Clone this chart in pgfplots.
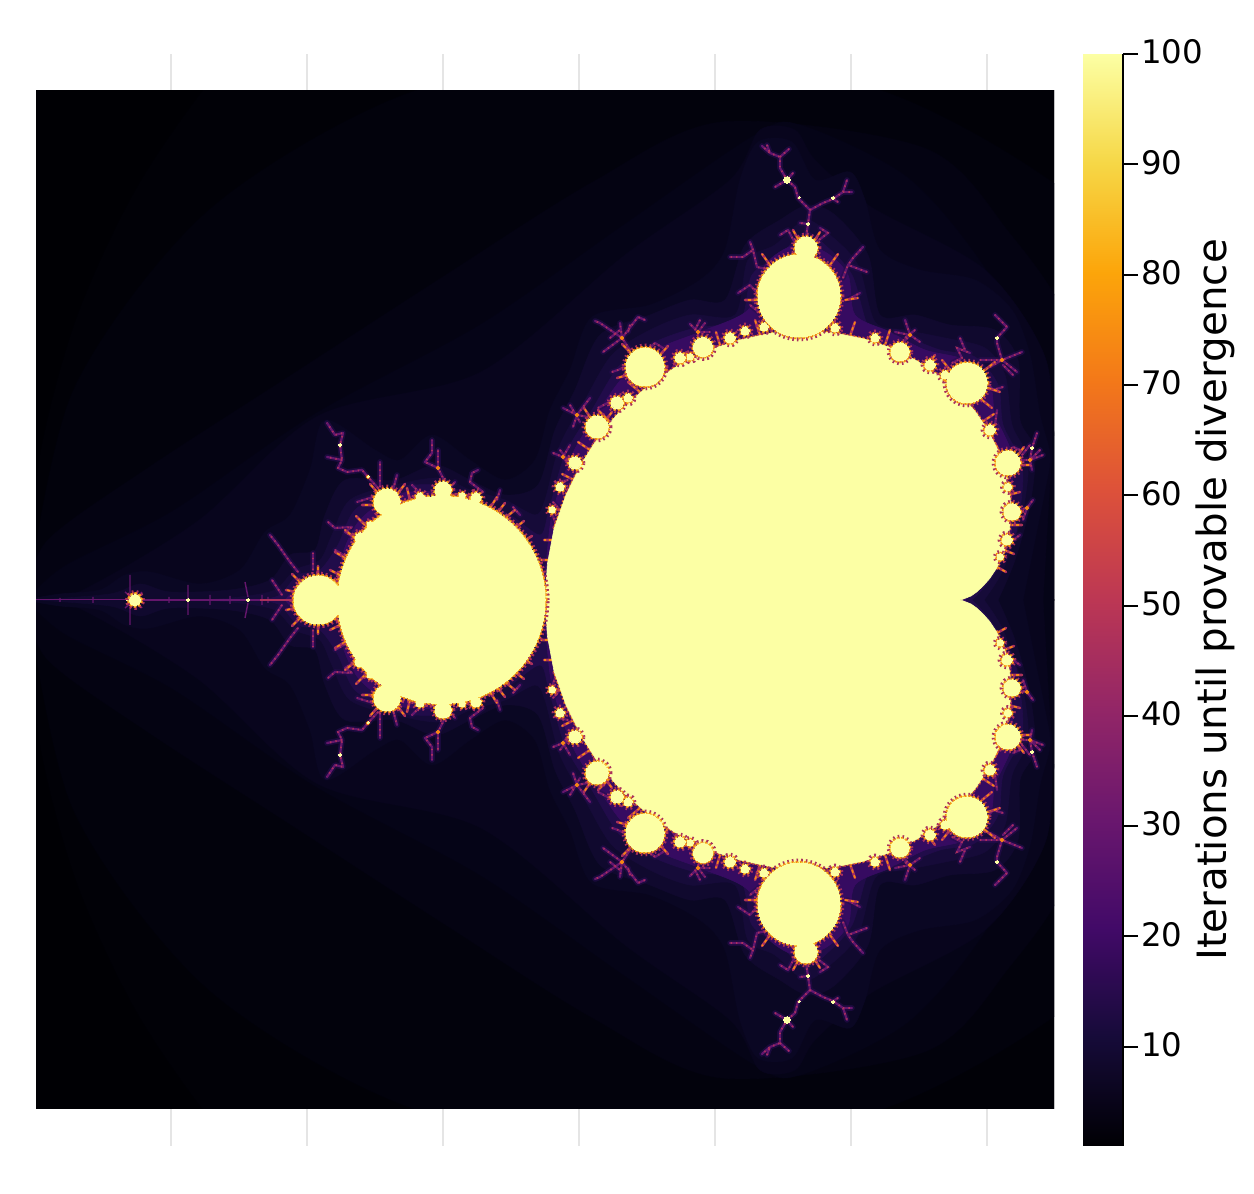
\documentclass[border=0pt]{standalone}
\usepackage{pgfplots}
\usepackage{pgfplotstable}
\usepackage{fontspec}
\setmainfont{DejaVu Sans}
\pgfplotsset{compat=1.18}
\pgfplotsset{colormap={inferno}{rgb255=(0,0,4) rgb255=(22,11,57) rgb255=(66,10,104) rgb255=(106,23,110) rgb255=(147,38,103) rgb255=(188,55,84) rgb255=(221,81,58) rgb255=(243,120,25) rgb255=(252,165,10) rgb255=(246,215,70) rgb255=(252,255,164)}}
\definecolor{Lone}{RGB}{0,0,4}
\definecolor{Ltwo}{RGB}{1,1,7}
\definecolor{Lthree}{RGB}{2,2,12}
\definecolor{Lfour}{RGB}{4,3,18}
\definecolor{Lfive}{RGB}{5,4,23}
\definecolor{Lsix}{RGB}{8,5,29}
\definecolor{Lseven}{RGB}{10,7,35}
\definecolor{Lnine}{RGB}{16,9,46}
\definecolor{Lele}{RGB}{22,11,57}
\definecolor{Lfourt}{RGB}{33,12,74}
\definecolor{Leight}{RGB}{54,11,97}
\definecolor{setc}{RGB}{252,255,164}
\definecolor{hairc}{RGB}{100,22,108}
\definecolor{glowc}{RGB}{38,12,78}
\definecolor{rimb}{RGB}{170,48,92}
\definecolor{rimo}{RGB}{245,135,20}
\definecolor{rimy}{RGB}{248,200,60}
% level curves of the escape count, upper half: x pixel, height above the real axis
\pgfplotstableread{
x y
27.5 0
40 144
77 283
138 414
221 532
323 634
1300 634
1300 0
}\tOne
\pgfplotstableread{
x y
1269 0
1223 211
1089 389
888 507
648 548
409 507
208 389
74 211
27.5 0
}\tTwo
\pgfplotstableread{
x y
1140 0
1076 259
1007 370
924 452
722 478
593 418
446 325
290 224
148 132
47 59
27.5 0
}\tThree
\pgfplotstableread{
x y
1078 0
1060 130
1037 240
975 346
904 425
800 475
755 465
621 373
480 275
315 186
173 89
65 34
27.5 0
}\tFour
\pgfplotstableread{
x y
1043 0
1050 120
1052 150
1045 243
985 330
871 393
815 440
795 470
760 470
730 420
625 345
481 228
318 184
198 79
77 7
30 0
}\tFive
\pgfplotstableread{
x y
1023 0
1035 60
1045 110
1050 145
1040 185
1030 245
1012 290
975 320
920 330
880 350
865 400
850 428
815 420
792 458
758 458
740 420
725 350
700 320
650 295
592 283
570 230
550 190
535 140
505 120
470 140
432 165
400 140
375 150
325 180
310 130
290 85
265 68
240 30
200 16
150 28
125 25
100 10
60 6
36 2
30 0
}\tSix
\pgfplotstableread{
x y
998 0
1015 40
1030 95
1035 150
1020 180
1018 240
995 270
950 275
915 285
880 285
868 345
835 385
808 395
780 380
745 355
725 300
690 300
650 285
600 265
575 210
555 170
538 115
505 105
470 120
435 135
395 120
345 120
325 85
315 50
290 45
270 20
230 10
170 8
140 16
110 6
36 0
}\tNine
\pgfplotstableread{
x y
984 0
1003 30
1022 85
1028 140
1012 175
1005 225
985 252
945 262
905 270
875 278
858 335
830 365
805 380
775 355
748 340
735 285
690 285
650 270
612 245
585 200
560 155
545 100
535 85
505 100
470 110
440 122
395 115
350 100
332 65
320 40
295 30
275 10
240 3
200 0
}\tEleven
\pgfplotstableread{
x y
972 0
990 20
1012 55
1020 90
1022 135
1003 175
998 215
975 243
940 250
900 265
870 270
852 325
825 355
805 368
780 345
752 325
740 280
695 272
655 258
620 235
592 190
565 145
549 90
540 65
510 85
470 105
440 115
395 112
355 90
338 55
320 30
298 25
280 5
260 0
}\tFourteen
\pgfplotstableread{
x y
965 0
975 10
992 28
1010 60
1012 100
1012 145
995 185
990 215
965 240
925 250
890 268
855 285
848 325
825 348
795 355
765 335
748 290
700 268
660 252
625 225
598 188
572 145
552 85
545 30
538 40
515 75
480 95
440 108
395 105
360 80
344 50
338 20
320 25
300 15
285 0
}\tEighteen
% main cardioid
\pgfplotstableread{
x y
959 0
962 0.5
971 4
976.6 8
983 14
989.7 21.5
996 31
1002 43
1007 57
1009.6 72
1011 90
1009.5 108
1006 128
998.7 148
989 168
975.5 188
959 207
939.4 224
917 239
891.6 252
864 261
834.5 267
804 269
772 267
740 260
709 250
679 235
650.5 216
624 193
601 167
582 137
566 105
554 71
547.4 36
545 0
}\tCard
% the part of the cardioid rim that carries a fringe
\pgfplotstableread{
x y
996 31
1002 43
1007 57
1009.6 72
1011 90
1009.5 108
1006 128
998.7 148
989 168
975.5 188
959 207
939.4 224
917 239
891.6 252
864 261
834.5 267
804 269
772 267
740 260
709 250
679 235
650.5 216
624 193
601 167
582 137
566 105
554 71
}\tRim
% filaments
\pgfplotstableread{
x y
806 363
808 376
810 390
798 402
795 413
787 420
780 432
780 443
770 447
762 454
nan nan
780 443
789 451
nan nan
767 455
770 447
nan nan
775 413
787 420
793 427
nan nan
810 390
823 397
833 401
843 408
847 420
nan nan
843 408
852 408
nan nan
838 398
833 401
nan nan
808 376
800 377
nan nan
795 357
788 370
780 365
nan nan
815 357
828 367
820 372
nan nan
770 330
757 333
753 350
743 343
730 343
nan nan
753 350
750 358
nan nan
843 322
848 335
853 342
863 353
nan nan
867 328
848 335
nan nan
757 307
750 315
738 307
nan nan
847 300
860 307
nan nan
760 287
750 295
nan nan
990 233
1002 240
1022 248
nan nan
1002 240
1017 228
nan nan
1002 240
997 257
997 262
1007 273
995 285
nan nan
980 240
1002 240
nan nan
952 237
962 242
957 252
970 247
nan nan
985 220
993 210
1003 213
nan nan
903 257
910 265
905 280
nan nan
910 265
920 258
nan nan
910 265
895 268
nan nan
1015 140
1030 140
1043 145
nan nan
1030 140
1032 152
1037 167
nan nan
1030 140
1032 130
nan nan
1020 150
1013 153
nan nan
1018 90
1027 92
1033 100
nan nan
1027 92
1023 80
nan nan
1008 62
1013 60
1020 65
nan nan
990 175
995 175
997 190
nan nan
630 250
622 262
600 277
595 279
nan nan
622 262
638 283
645 280
nan nan
622 262
603 248
nan nan
622 262
620 277
nan nan
650 252
655 257
663 252
nan nan
628 235
618 230
612 228
nan nan
588 183
577 185
563 192
nan nan
577 185
590 202
nan nan
577 185
573 173
nan nan
598 192
617 202
622 190
nan nan
575 140
563 143
553 147
nan nan
563 143
570 155
nan nan
563 143
567 137
nan nan
568 120
555 117
nan nan
553 98
560 90
nan nan
552 87
556 75
nan nan
700 255
698 268
690 276
nan nan
698 268
710 268
nan nan
698 268
705 277
nan nan
682 245
673 233
nan nan
727 267
730 262
nan nan
378 112
368 123
362 130
347 128
338 132
342 140
340 155
343 167
335 165
327 177
nan nan
342 140
327 143
nan nan
380 113
380 138
nan nan
393 110
397 125
nan nan
373 103
357 98
nan nan
445 118
438 132
425 138
432 147
432 160
nan nan
438 132
438 150
nan nan
450 112
455 118
nan nan
420 107
412 115
nan nan
483 108
470 118
472 127
478 130
nan nan
497 100
500 110
nan nan
513 93
520 85
nan nan
328 78
335 72
352 73
345 68
353 63
365 70
nan nan
313 30
313 47
nan nan
335 50
347 43
nan nan
298 28
290 38
278 55
270 65
nan nan
282 5
272 20
nan nan
1013 225
1003 235
nan nan
960 262
965 250
nan nan
585 175
598 178
nan nan
610 262
620 270
nan nan
630 275
628 268
nan nan
1022 145
1030 155
nan nan
1040 150
1030 140
nan nan
915 270
905 262
nan nan
700 280
695 270
nan nan
570 195
580 178
nan nan
560 150
570 137
}\tHair
% short spikes of the bright fringe
\pgfplotstableread{
x y
498 88
505 97
nan nan
505 82
515 90
nan nan
515 72
524 79
nan nan
522 58
532 64
nan nan
528 40
536 45
nan nan
490 92
497 103
nan nan
470 100
474 110
nan nan
410 100
407 112
nan nan
400 98
395 110
nan nan
365 75
356 84
nan nan
355 62
345 70
nan nan
345 42
335 48
nan nan
340 25
330 30
nan nan
760 265
755 280
nan nan
720 255
716 268
nan nan
668 228
660 242
nan nan
640 208
628 218
nan nan
610 178
598 190
nan nan
590 150
578 158
nan nan
574 120
562 126
nan nan
560 90
549 92
nan nan
552 60
544 60
nan nan
548 40
541 40
nan nan
850 264
855 278
nan nan
885 255
890 270
nan nan
925 232
935 245
nan nan
982 178
994 186
nan nan
1000 145
1012 150
nan nan
1008 105
1020 108
nan nan
1010 75
1022 75
nan nan
1004 50
1014 46
nan nan
997 33
1006 28
nan nan
770 335
762 346
nan nan
830 335
838 346
nan nan
845 300
858 302
nan nan
757 300
745 300
nan nan
630 248
622 256
nan nan
660 245
668 254
nan nan
628 225
617 222
nan nan
950 230
942 240
nan nan
985 230
995 238
nan nan
988 212
1000 208
nan nan
982 200
992 192
nan nan
590 183
584 192
nan nan
606 180
612 188
nan nan
1000 147
995 157
nan nan
1018 145
1024 153
nan nan
1020 135
1030 135
nan nan
377 108
370 116
nan nan
398 107
405 116
nan nan
374 95
362 95
nan nan
300 18
292 26
nan nan
318 24
318 34
nan nan
335 18
342 26
nan nan
296 8
286 10
nan nan
798 361
793 370
nan nan
815 360
820 368
}\tFringe
\pgfplotstableread{
x y
130 0
130 25
nan nan
188 0
188 15
nan nan
248 3
245 18
nan nan
210 0
210 5
nan nan
169 0
169 3
nan nan
93 0
93 3
nan nan
60 0
60 2
nan nan
230 0
230 4
nan nan
262 0
262 5
nan nan
268 0
268 3
nan nan
135 0
125 8
nan nan
135 0
142 8
}\tSpike
\newcommand{\fillboth}[2]{%
  \addplot[#1] table[x=x,y=y]{#2} --cycle;
  \addplot[#1] table[x=x,y expr=-\thisrow{y}]{#2} --cycle;}
\newcommand{\lineboth}[2]{%
  \addplot[#1] table[x=x,y=y]{#2};
  \addplot[#1] table[x=x,y expr=-\thisrow{y}]{#2};}
% bulbs: x, height, radius
\newcommand{\Bulbs}[1]{%
  #1{441.5}{0}{103.5}#1{318}{0}{24}#1{135}{0}{5.5}#1{799}{304}{41}#1{806}{352}{11}%
  #1{645}{233}{19}#1{967}{217}{20}#1{1008}{137}{12}#1{597}{173}{11}%
  #1{703}{253}{9.5}#1{900}{248}{9}#1{1012}{88}{8}#1{1007}{60}{5}%
  #1{575}{137}{6}#1{560}{113}{4}#1{552}{90}{3}#1{730}{262}{5}%
  #1{764}{273}{4}#1{745}{269}{4}#1{835}{272}{4}#1{875}{262}{4}%
  #1{930}{235}{5}#1{945}{225}{4}#1{990}{170}{5}#1{1008}{113}{3.5}#1{1000}{43}{3}%
  #1{617}{197}{6}#1{628}{202}{4}#1{680}{242}{5}#1{690}{243}{3}%
  #1{387}{98}{13}#1{443}{110}{8}#1{420}{103}{4}#1{476}{102}{5}#1{462}{104}{3}%
  #1{360}{62}{5}#1{370}{75}{3}}
\newcommand{\BA}[3]{\addplot[only marks,mark=o,mark size=0.5*#3pt+1.2pt,mark options={draw=rimb,line width=2pt,dash pattern=on .8pt off 1.5pt}] coordinates {(#1,#2)(#1,-#2)};}
\newcommand{\BB}[3]{\addplot[only marks,mark=o,mark size=0.5*#3pt+.5pt,mark options={draw=rimo,line width=1.3pt,dash pattern=on 1pt off 1.1pt}] coordinates {(#1,#2)(#1,-#2)};}
\newcommand{\BD}[3]{\addplot[only marks,mark=o,mark size=0.5*#3pt+.2pt,mark options={draw=rimy,line width=.8pt,dash pattern=on 1.2pt off .7pt}] coordinates {(#1,#2)(#1,-#2)};}
\newcommand{\BC}[3]{\addplot[only marks,mark=*,mark size=0.5*#3pt,mark options={draw=setc,line width=0pt,fill=setc}] coordinates {(#1,#2)(#1,-#2)};}
\begin{document}
\begin{tikzpicture}
\path[use as bounding box] (0,0) rectangle (627pt,597pt);
\begin{axis}[at={(18pt,24pt)},anchor=south west,scale only axis,width=509pt,height=546pt,
  xmin=36,xmax=1054,ymin=-546,ymax=546,
  axis line style={draw=none},
  xtick={171,307,443,579,715,851,987},xticklabels={},
  ytick={-508.5,509},yticklabels={},
  major tick length=0pt,xmajorgrids,ymajorgrids,
  grid style={draw=black!10,line width=0.7pt}]
\end{axis}
\begin{axis}[at={(18pt,42.75pt)},anchor=south west,scale only axis,width=509pt,height=508.75pt,
  xmin=36,xmax=1054,ymin=-508.5,ymax=509,
  axis line style={draw=none},ticks=none,clip=true,unbounded coords=jump]
\addplot[fill=Lone,draw=none] coordinates {(30,-515)(1060,-515)(1060,515)(30,515)} --cycle;
\fillboth{fill=Ltwo,draw=Ltwo,line width=.3pt,smooth}{\tOne}
\fillboth{fill=Lthree,draw=Lthree,line width=.3pt,smooth}{\tTwo}
\fillboth{fill=Lfour,draw=Lfour,line width=.3pt,smooth}{\tThree}
\fillboth{fill=Lfive,draw=Lfive,line width=.3pt,smooth}{\tFour}
\fillboth{fill=Lsix,draw=Lsix,line width=.3pt,smooth}{\tFive}
\fillboth{fill=Lseven,draw=Lseven,line width=.3pt,smooth}{\tSix}
\fillboth{fill=Lnine,draw=Lnine,line width=.3pt,smooth}{\tNine}
\fillboth{fill=Lele,draw=Lele,line width=.3pt,smooth}{\tEleven}
\fillboth{fill=Lfourt,draw=Lfourt,line width=.3pt,smooth}{\tFourteen}
\fillboth{fill=Leight,draw=Leight,line width=.3pt,smooth}{\tEighteen}
\lineboth{draw=glowc,line width=2.8pt,opacity=.6,line cap=round,line join=round}{\tHair}
\lineboth{draw=hairc,line width=1.1pt,line cap=round,line join=round}{\tHair}
\lineboth{draw=rimb,line width=.9pt,dash pattern=on .7pt off 2pt}{\tHair}
\lineboth{draw=hairc,line width=.7pt}{\tSpike}
\addplot[draw=hairc,line width=.5pt] coordinates {(36,0)(130,0)};
\addplot[draw=hairc,line width=.7pt] coordinates {(130,0)(260,0)};
\addplot[draw=rimb,line width=.9pt] coordinates {(260,0)(294,0)};
\lineboth{draw=rimb,line width=1.3pt,line cap=round}{\tFringe}
\lineboth{draw=rimo,line width=.8pt,dash pattern=on 1.6pt off 1.4pt}{\tFringe}
\addplot[only marks,mark=*,mark size=.9pt,mark options={draw=rimo,fill=rimo}] coordinates {(622,262)(622,-262)(577,185)(577,-185)(563,143)(563,-143)(698,268)(698,-268)(1002,240)(1002,-240)(1030,140)(1030,-140)(910,265)(910,-265)(1027,92)(1027,-92)(438,132)(438,-132)(368,123)(368,-123)};
\Bulbs{\BA}
\lineboth{draw=rimb,line width=2pt,dash pattern=on .8pt off 1.5pt}{\tRim}
\Bulbs{\BB}
\lineboth{draw=rimo,line width=1.3pt,dash pattern=on 1pt off 1.1pt}{\tRim}
\Bulbs{\BD}
\fillboth{fill=setc,draw=setc,line width=.3pt}{\tCard}
\Bulbs{\BC}
\addplot[draw=setc,line width=1pt] coordinates {(126,0)(135,0)};
\addplot[only marks,mark=*,mark size=1.7pt,mark options={draw=setc,fill=setc,line width=0pt}] coordinates {(787,420)(787,-420)};
\addplot[only marks,mark=*,mark size=.8pt,mark options={draw=setc,fill=setc,line width=0pt}] coordinates {(833,402)(833,-402)(808,376)(808,-376)(997,262)(997,-262)(1032,152)(1032,-152)(340,155)(340,-155)(188,0)(248,0)};
\addplot[only marks,mark=*,mark size=.5pt,mark options={draw=setc,fill=setc,line width=0pt}] coordinates {(799,402)(799,-402)(368,123)(368,-123)};
\end{axis}
\begin{axis}[at={(541.5pt,24pt)},anchor=south west,scale only axis,width=20pt,height=546pt,
  xmin=0,xmax=1,ymin=1,ymax=100,view={0}{90},
  colormap name=inferno,point meta min=1,point meta max=100,
  axis y line*=right,axis x line=none,
  y axis line style={line width=1pt,black},
  ytick={10,20,...,100},
  ytick style={line width=1pt,black},
  major tick length=7.5pt,tick align=outside,
  /pgf/number format/assume math mode=true,
  yticklabel style={font=\fontsize{16.2}{18}\selectfont,xshift=-2pt,yshift=1pt},
  ylabel={Iterations until provable divergence},
  y label style={font=\fontsize{20.2}{24}\selectfont,at={(axis description cs:3.3,0.5)},anchor=center,rotate=0}]
\addplot3[surf,shader=interp,point meta=y] coordinates {
(0,1,0) (1,1,0)

(0,100,0) (1,100,0)
};
\end{axis}
\end{tikzpicture}
\end{document}
